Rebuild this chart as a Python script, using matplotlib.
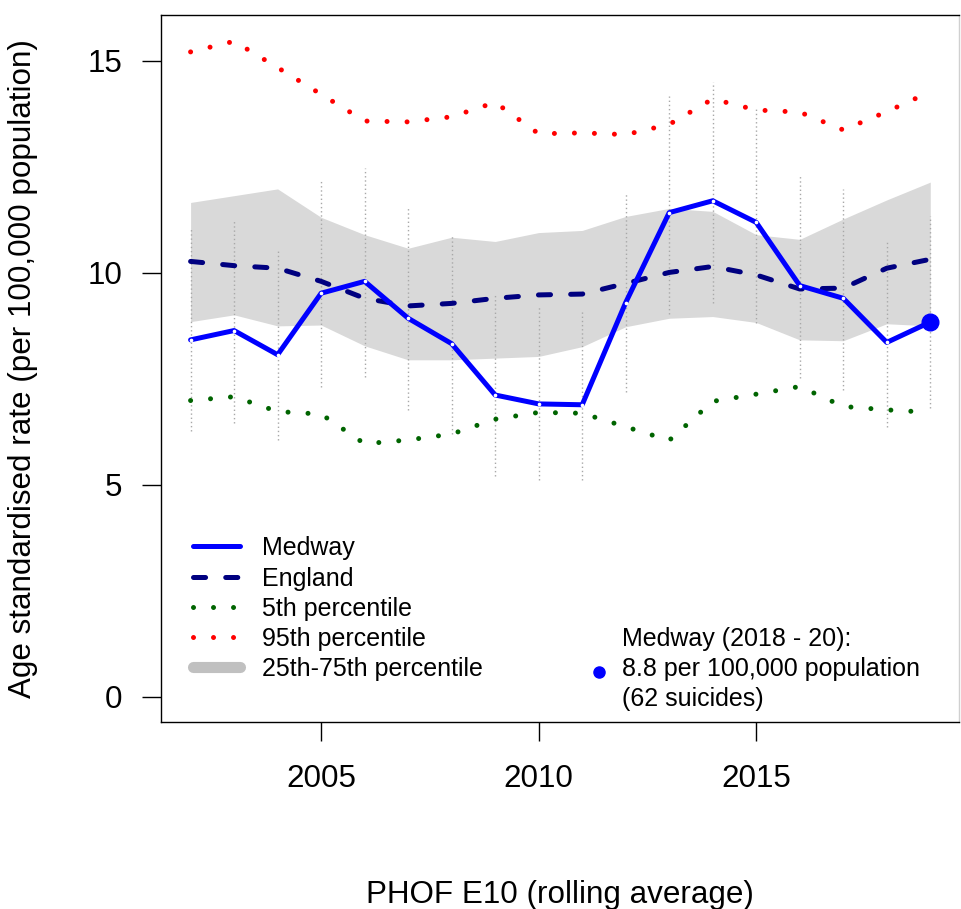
import matplotlib
matplotlib.use("Agg")
import matplotlib.pyplot as plt
import numpy as np

plt.rcParams['font.family'] = ['Liberation Sans', 'DejaVu Sans']
plt.rcParams['lines.scale_dashes'] = False

years = list(range(2002, 2020))
medway = [8.42, 8.64, 8.07, 9.52, 9.80, 8.93, 8.33, 7.12, 6.91, 6.89, 9.30, 11.42, 11.70, 11.19, 9.70, 9.40, 8.36, 8.84]
england = [10.27, 10.17, 10.11, 9.80, 9.40, 9.22, 9.28, 9.40, 9.48, 9.50, 9.75, 10.01, 10.15, 9.95, 9.62, 9.64, 10.11, 10.32]
q25 = [8.85, 9.01, 8.75, 8.77, 8.28, 7.95, 7.95, 7.99, 8.03, 8.26, 8.73, 8.93, 8.97, 8.83, 8.42, 8.40, 8.80, 8.75]
q75 = [11.66, 11.82, 11.98, 11.31, 10.90, 10.58, 10.84, 10.74, 10.95, 11.00, 11.33, 11.52, 11.45, 10.90, 10.79, 11.27, 11.72, 12.14]
p5 = [6.99, 7.08, 6.73, 6.67, 5.97, 6.06, 6.20, 6.55, 6.71, 6.69, 6.37, 6.05, 6.97, 7.14, 7.32, 6.85, 6.77, 6.71]
p95 = [15.21, 15.46, 14.84, 14.21, 13.58, 13.56, 13.68, 14.02, 13.28, 13.30, 13.26, 13.50, 14.10, 13.84, 13.79, 13.37, 13.80, 14.27]
ci_lo = [6.26, 6.45, 6.06, 7.32, 7.55, 6.77, 6.21, 5.22, 5.12, 5.12, 7.20, 9.04, 9.30, 8.81, 7.53, 7.24, 6.36, 6.81]
ci_hi = [11.07, 11.26, 10.54, 12.17, 12.48, 11.58, 10.87, 9.50, 9.19, 9.13, 11.87, 14.17, 14.49, 13.92, 12.30, 11.97, 10.78, 11.33]

legend_labels = ["Medway", "England", "5th percentile", "95th percentile", "25th-75th percentile"]
note_lines = ["Medway (2018 - 20):", "8.8 per 100,000 population", "(62 suicides)"]
xticks = [2005, 2010, 2015]
yticks = [0, 5, 10, 15]

C_MED = "#0000FF"
C_ENG = "#000080"
C_P5 = "#006400"
C_P95 = "#FF0000"
C_BAND = "#D9D9D9"
C_BAND_LEG = "#C0C0C0"
C_CI = "#A8A8A8"

LW = 3.6
dash_eng = (0, (8.7, 14.5))
dots = (0, (0.01, 14.4))
BIG = 22.6
SMALL = 18.0

fig = plt.figure(figsize=(9.61, 9.09), dpi=100)
ax = fig.add_axes([161/961, 1-722/909, (959-161)/961, (722-15)/909])

ax.fill_between(years, q25, q75, color=C_BAND, lw=0, zorder=1)
for x, lo, hi in zip(years, ci_lo, ci_hi):
    ax.plot([x, x], [lo, hi], color=C_CI, lw=1.0, linestyle=(0, (1, 2)), zorder=2)
ax.plot(years, p5, color=C_P5, lw=LW, linestyle=dots, dash_capstyle='round', zorder=3)
ax.plot(years, p95, color=C_P95, lw=LW, linestyle=dots, dash_capstyle='round', zorder=3)
ax.plot(years, england, color=C_ENG, lw=LW, linestyle=dash_eng, dash_capstyle='round', zorder=4)
ax.plot(years, medway, color=C_MED, lw=LW, solid_capstyle='round', solid_joinstyle='round', zorder=5)
ax.plot(years, medway, linestyle='none', marker='o', ms=1.6, mfc='white', mec='white', zorder=6)
ax.plot(years[-1:], medway[-1:], linestyle='none', marker='o', ms=12, color=C_MED, zorder=7)

ax.set_xlim(2001.32, 2019.66)
ax.set_ylim(-0.59, 16.08)
ax.set_xticks(xticks)
ax.set_yticks(yticks)
ax.tick_params(axis='both', labelsize=BIG, length=14, width=1.0, color='black', direction='out')
ax.tick_params(axis='y', pad=14.0)
ax.tick_params(axis='x', pad=16.5)
for s in ['left', 'top', 'bottom']:
    ax.spines[s].set_linewidth(1.0)
ax.spines['right'].set_color('#D0D0D0')
ax.spines['right'].set_linewidth(1.0)

ax.set_xlabel("PHOF E10 (rolling average)", fontsize=BIG)
ax.xaxis.set_label_coords(0.5, (722-903)/707)
ax.xaxis.label.set_va('baseline')
ax.set_ylabel("Age standardised rate (per 100,000 population)", fontsize=BIG)
ax.yaxis.set_label_coords((23-161)/798, 0.5)
ax.yaxis.label.set_va('center')

# Legend (drawn manually in axes coordinates)
def fx(px):
    return (px - 161) / 798

def fy(py):
    return (722 - py) / 707

rows = [546, 576.5, 606.5, 636.5, 666.5]
styles = [
    dict(color=C_MED, lw=LW, solid_capstyle='round'),
    dict(color=C_ENG, lw=LW, linestyle=dash_eng, dash_capstyle='round'),
    dict(color=C_P5, lw=LW, linestyle=dots, dash_capstyle='round'),
    dict(color=C_P95, lw=LW, linestyle=dots, dash_capstyle='round'),
    dict(color=C_BAND_LEG, lw=8, solid_capstyle='round'),
]
for lab, r, st in zip(legend_labels, rows, styles):
    x0, x1 = (193, 240) if st.get('linestyle') is None else (193, 245)
    ax.plot([fx(x0), fx(x1)], [fy(r), fy(r)], transform=ax.transAxes, clip_on=False, **st)
    ax.text(fx(262), fy(r), lab, transform=ax.transAxes, fontsize=SMALL, va='center_baseline', ha='left')

note_rows = [636.7, 666.7, 696.7]
for txt, r in zip(note_lines, note_rows):
    ax.text(fx(622), fy(r), txt, transform=ax.transAxes, fontsize=SMALL, va='center_baseline', ha='left')
ax.plot([fx(598.5)], [fy(671.7)], transform=ax.transAxes, marker='o', ms=8, color=C_MED, linestyle='none')

fig.savefig("out.png", dpi=100)
